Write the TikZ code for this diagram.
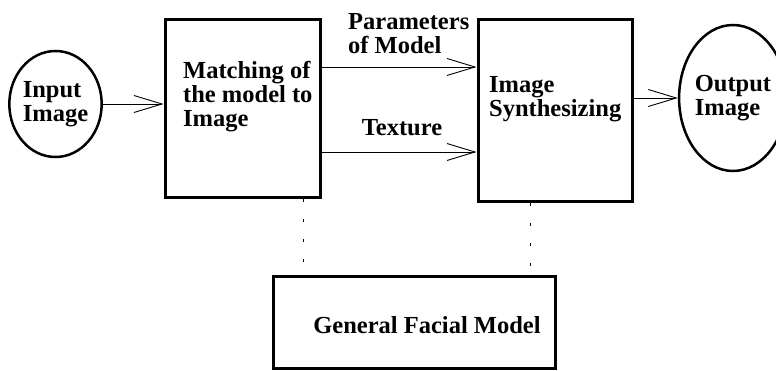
\documentclass[tikz,border=0pt]{standalone}
\usepackage{fontspec}
\setmainfont{Liberation Serif}
\usetikzlibrary{shapes.geometric,arrows.meta}

\begin{document}
\begin{tikzpicture}[x=1pt, y=-1pt,
  blk/.style={draw, line width=3pt, inner sep=0pt},
  oval/.style={draw, ellipse, line width=2.5pt, inner sep=0pt, align=left,
    font=\bfseries\fontsize{24.5}{24}\selectfont},
  txt/.style={align=left, inner sep=0pt, font=\bfseries\fontsize{24.5}{24}\selectfont},
  arr/.style={line width=0.9pt, -{Straight Barb[length=28pt,width=17pt]}},
  dots/.style={line width=0.8pt, dash pattern=on 3pt off 17pt}]
  \useasboundingbox (0,0) rectangle (776,371);

  \node[oval, minimum width=83pt, minimum height=106pt] (in) at (55.5,104) {Input\\Image};
  \node[blk, minimum width=155pt, minimum height=178pt] (match) at (242.5,109) {};
  \node[blk, minimum width=154pt, minimum height=182pt] (synth) at (555,111) {};
  \node[oval, minimum width=86pt, minimum height=146pt] (out) at (733,98) {Output\\Image};
  \node[blk, minimum width=282pt, minimum height=91pt] (gen) at (414,322.5) {};

  \node[txt, anchor=west] (matchtxt) at (183,97) {Matching of\\the model to\\Image};
  \node[txt, anchor=west] (synthtxt) at (489,99) {Image\\Synthesizing};
  \node[txt, anchor=west] (paramtxt) at (348,34) {Parameters\\of Model};
  \node[txt] (textxt) at (402,128) {Texture};
  \node[txt] (gentxt) at (427,325) {General Facial Model};

  \draw[arr] (in.east) -- (in.east -| match.west);
  \draw[arr] ([yshift=42pt]match.east) -- ([yshift=42pt]match.east -| synth.west);
  \draw[arr] ([yshift=-43pt]match.east) -- ([yshift=-43pt]match.east -| synth.west);
  \draw[arr] (synth.east |- out.west) -- (out.west);

  \draw[dots] ([xshift=61pt]match.south) -- ([xshift=61pt]match.south |- gen.north);
  \draw[dots] ([xshift=-25pt]synth.south) -- ([xshift=-25pt]synth.south |- gen.north);
\end{tikzpicture}
\end{document}
